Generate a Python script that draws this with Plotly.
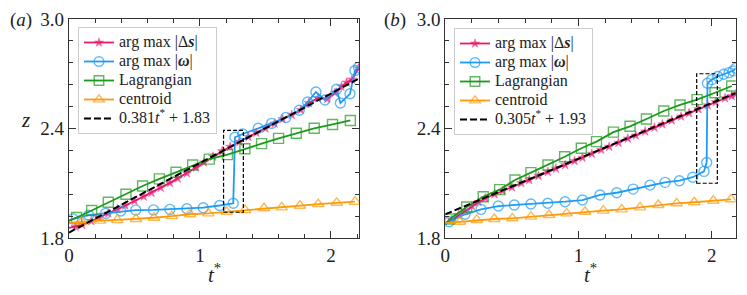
import plotly.graph_objects as go

# ---------------- Panel (a) data ----------------
a_ds_t = [0.00, 0.05, 0.10, 0.17, 0.23, 0.30, 0.37, 0.43, 0.50, 0.57, 0.63, 0.70, 0.77, 0.83,
          0.90, 0.97, 1.03, 1.10, 1.17, 1.23, 1.30, 1.37, 1.43, 1.50, 1.57, 1.63, 1.70, 1.77,
          1.83, 1.90, 1.97, 2.03, 2.08, 2.12, 2.16, 2.21]
a_ds_z = [1.855, 1.862, 1.872, 1.893, 1.912, 1.935, 1.958, 1.978, 2.003, 2.027, 2.048, 2.076,
          2.102, 2.126, 2.155, 2.186, 2.214, 2.246, 2.276, 2.300, 2.327, 2.354, 2.377, 2.400,
          2.427, 2.452, 2.474, 2.502, 2.540, 2.566, 2.562, 2.596, 2.630, 2.652, 2.668, 2.730]

a_om_t = [0.00, 0.03, 0.15, 0.28, 0.395, 0.51, 0.645, 0.77, 0.90, 1.025, 1.15, 1.254,
          1.267, 1.326, 1.445, 1.547, 1.656, 1.758, 1.822, 1.885, 1.954, 2.043, 2.072,
          2.145, 2.183, 2.21]
a_om_z = [1.895, 1.905, 1.925, 1.935, 1.948, 1.953, 1.954, 1.957, 1.960, 1.966, 1.978, 1.990,
          2.352, 2.370, 2.401, 2.428, 2.461, 2.500, 2.545, 2.600, 2.556, 2.615, 2.540,
          2.590, 2.718, 2.735]

a_lag_t = [0.00, 0.058, 0.173, 0.30, 0.435, 0.562, 0.69, 0.817, 0.944, 1.071, 1.21, 1.343,
           1.47, 1.60, 1.735, 1.872, 2.012, 2.148]
a_lag_z = [1.895, 1.912, 1.951, 1.996, 2.040, 2.085, 2.124, 2.160, 2.200, 2.232, 2.257, 2.289,
           2.317, 2.346, 2.374, 2.401, 2.422, 2.444]

a_cen_t = [0.00, 0.097, 0.237, 0.369, 0.511, 0.649, 0.784, 0.924, 1.064, 1.204, 1.344, 1.489,
           1.624, 1.763, 1.903, 2.044, 2.183]
a_cen_z = [1.882, 1.889, 1.895, 1.899, 1.904, 1.911, 1.920, 1.930, 1.935, 1.944, 1.953, 1.963,
           1.968, 1.977, 1.986, 1.993, 1.999]

a_fit_slope, a_fit_icpt = 0.381, 1.83
a_fit_t = [0.0, 2.21]
a_box_t = [1.18, 1.331]
a_box_z = [1.941, 2.39]

# ---------------- Panel (b) data ----------------
b_ds_t = [0.00, 0.05, 0.10, 0.15, 0.20, 0.25, 0.30, 0.37, 0.43, 0.50, 0.57, 0.63, 0.70, 0.77,
          0.83, 0.90, 0.97, 1.03, 1.10, 1.17, 1.23, 1.30, 1.37, 1.43, 1.50, 1.57, 1.63, 1.70,
          1.77, 1.83, 1.90, 1.97, 2.03, 2.10, 2.15, 2.18]
b_ds_z = [1.875, 1.900, 1.926, 1.948, 1.975, 1.997, 2.018, 2.040, 2.058, 2.078, 2.101, 2.118,
          2.140, 2.162, 2.180, 2.200, 2.222, 2.240, 2.262, 2.283, 2.300, 2.322, 2.345, 2.362,
          2.384, 2.405, 2.423, 2.445, 2.466, 2.484, 2.506, 2.527, 2.545, 2.566, 2.578, 2.588]

b_om_t = [0.00, 0.028, 0.148, 0.268, 0.398, 0.518, 0.643, 0.769, 0.899, 1.029, 1.161, 1.287,
          1.41, 1.537, 1.65, 1.757, 1.857, 1.942, 1.962, 1.968, 2.0, 2.045, 2.09, 2.13,
          2.16, 2.18]
b_om_z = [1.875, 1.889, 1.930, 1.957, 1.975, 1.981, 1.986, 1.990, 1.999, 2.008, 2.036, 2.048,
          2.068, 2.090, 2.105, 2.114, 2.133, 2.165, 2.214, 2.648, 2.668, 2.685, 2.697, 2.706,
          2.716, 2.730]

b_lag_t = [0.00, 0.035, 0.161, 0.285, 0.408, 0.523, 0.643, 0.771, 0.896, 1.021, 1.135, 1.262,
           1.387, 1.510, 1.640, 1.762, 1.890, 2.025, 2.150]
b_lag_z = [1.878, 1.904, 1.970, 2.026, 2.065, 2.118, 2.158, 2.200, 2.245, 2.292, 2.328, 2.380,
           2.412, 2.452, 2.496, 2.529, 2.558, 2.596, 2.633]

b_cen_t = [0.00, 0.11, 0.236, 0.368, 0.503, 0.643, 0.779, 0.911, 1.049, 1.186, 1.324, 1.462,
           1.599, 1.737, 1.869, 2.012, 2.145]
b_cen_z = [1.882, 1.889, 1.899, 1.904, 1.908, 1.917, 1.926, 1.935, 1.944, 1.950, 1.957, 1.968,
           1.981, 1.990, 1.996, 2.004, 2.012]

b_fit_slope, b_fit_icpt = 0.305, 1.93
b_fit_t = [0.0, 2.18]
b_box_t = [1.887, 2.042]
b_box_z = [2.10, 2.70]

x_ranges = [[0, 2.214], [0, 2.18]]
y_range = [1.8, 3.0]
x_ticks = [0, 1, 2]
y_ticks = [1.8, 2.4, 3.0]
panel_labels = ["(<i>a</i>)", "(<i>b</i>)"]
legend_names = ["arg max |Δ<b><i>s</i></b>|", "arg max |<b><i>ω</i></b>|", "Lagrangian", "centroid"]

# ---------------- Styling ----------------
# The page body has an 8px margin, so the figure is drawn 8px in from the
# window's corner; the figure is sized so it fits the 747x295 window exactly.
OFF = 8
W, H = 747 - OFF, 295 - OFF
FONT = "Liberation Serif, DejaVu Serif, serif"
PINK, BLUE, GREEN, ORANGE = "#E8196E", "#1E9CF5", "#1C9A1C", "#FF9A0A"
AX = "#333333"
LEG_TXT = 16

fig = go.Figure()

def px_x(p):
    return (p - OFF) / W

def px_y(p):
    return 1 - (p - OFF) / H

domains_x = [[px_x(69), px_x(359)], [px_x(445.3), px_x(735.7)]]
domain_y = [px_y(238), px_y(19)]

panels = [
    dict(ds=(a_ds_t, a_ds_z), om=(a_om_t, a_om_z), lag=(a_lag_t, a_lag_z), cen=(a_cen_t, a_cen_z),
         fit=(a_fit_slope, a_fit_icpt, a_fit_t), box=(a_box_t, a_box_z)),
    dict(ds=(b_ds_t, b_ds_z), om=(b_om_t, b_om_z), lag=(b_lag_t, b_lag_z), cen=(b_cen_t, b_cen_z),
         fit=(b_fit_slope, b_fit_icpt, b_fit_t), box=(b_box_t, b_box_z)),
]

def big(s):
    return f'<span style="font-size:{LEG_TXT}px">{s}</span>'

for i, p in enumerate(panels):
    xa = "x" if i == 0 else "x2"
    ya = "y" if i == 0 else "y2"
    lg = "legend" if i == 0 else "legend2"
    specs = [
        ("ds", legend_names[0], PINK, "star", 7, 0.5),
        ("om", legend_names[1], BLUE, "circle-open", 10, 1.4),
        ("lag", legend_names[2], GREEN, "square-open", 10, 1.4),
        ("cen", legend_names[3], ORANGE, "triangle-up-open", 10, 1.4),
    ]
    for key, name, col, sym, sz, mlw in specs:
        ts, zs = p[key]
        sizes = [0 if t == 0 else sz for t in ts]
        fig.add_trace(go.Scatter(
            x=ts, y=zs, mode="lines+markers", name=big(name), xaxis=xa, yaxis=ya, legend=lg,
            line=dict(color=col, width=1.8),
            marker=dict(symbol=sym, size=sizes, color=col, line=dict(color=col, width=mlw)),
        ))
    slope, icpt, ft = p["fit"]
    fz = [slope * t + icpt for t in ft]
    fig.add_trace(go.Scatter(
        x=ft, y=fz, mode="lines", name=big(f"{slope:.3f}<i>t</i><sup>*</sup> + {icpt:.2f}"),
        xaxis=xa, yaxis=ya, legend=lg,
        line=dict(color="black", width=2, dash="7px,3px"),
    ))
    bt, bz = p["box"]
    fig.add_shape(type="rect", xref=xa, yref=ya, x0=bt[0], x1=bt[1], y0=bz[0], y1=bz[1],
                  line=dict(color="black", width=1.2, dash="4px,2px"), layer="above")

axis_common = dict(
    showline=True, linecolor=AX, linewidth=1.2, mirror="allticks",
    ticks="inside", ticklen=7, tickwidth=1, tickcolor=AX,
    showgrid=False, zeroline=False, automargin=False,
    tickfont=dict(family=FONT, size=19, color="#222"),
)

for i in range(2):
    xk = "xaxis" if i == 0 else "xaxis2"
    yk = "yaxis" if i == 0 else "yaxis2"
    fig.update_layout(**{
        xk: dict(axis_common, domain=domains_x[i], range=x_ranges[i], tickvals=x_ticks,
                 ticktext=[str(v) for v in x_ticks], anchor="y" if i == 0 else "y2",
                 minor=dict(ticks="inside", ticklen=4, tickcolor=AX, dtick=0.2, tick0=0, showgrid=False)),
        yk: dict(axis_common, domain=domain_y, range=y_range, tickvals=y_ticks,
                 ticktext=[f"{v:.1f}" for v in y_ticks], anchor="x" if i == 0 else "x2",
                 minor=dict(ticks="inside", ticklen=4, tickcolor=AX, dtick=0.12, tick0=1.8, showgrid=False)),
    })

legend_common = dict(
    font=dict(family=FONT, size=11, color="#222"),
    bgcolor="rgba(255,255,255,0.85)", bordercolor="#cccccc", borderwidth=1,
    xanchor="left", yanchor="top", tracegroupgap=0, itemwidth=30,
)
fig.update_layout(
    legend=dict(legend_common, x=px_x(78), y=px_y(27)),
    legend2=dict(legend_common, x=px_x(454), y=px_y(28)),
)

annots = []
for i, cx in enumerate([21, 395]):
    annots.append(dict(text=panel_labels[i], x=px_x(cx), y=px_y(20), xref="paper", yref="paper",
                       xanchor="center", yanchor="middle",
                       showarrow=False, font=dict(family=FONT, size=19, color="#222")))
for cx in [214, 590.5]:
    annots.append(dict(text="<i>t</i><sup>*</sup>", x=px_x(cx), y=px_y(273), xref="paper", yref="paper",
                       xanchor="center", yanchor="middle",
                       showarrow=False, font=dict(family=FONT, size=21, color="#222")))
annots.append(dict(text="<i>z</i>", x=px_x(25), y=px_y(120), xref="paper", yref="paper",
                   xanchor="center", yanchor="middle",
                   showarrow=False, font=dict(family=FONT, size=21, color="#222")))

fig.update_layout(
    width=W, height=H, margin=dict(l=0, r=0, t=0, b=0, autoexpand=False),
    paper_bgcolor="white", plot_bgcolor="white",
    annotations=annots, showlegend=True,
)

fig.write_html("out.html")
